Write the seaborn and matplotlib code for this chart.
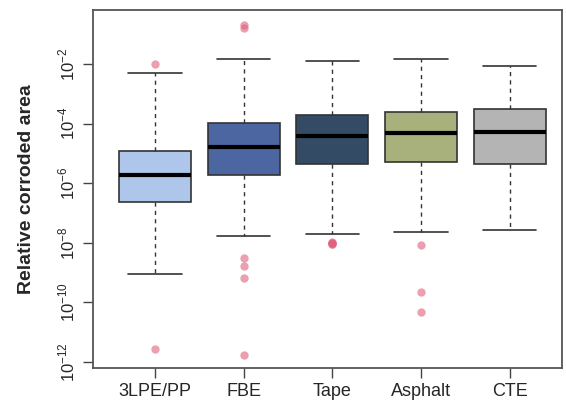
import numpy as np
import pandas as pd
import matplotlib
matplotlib.use('Agg')
import matplotlib.pyplot as plt
import seaborn as sns

# coating types and box summaries (log10 of relative corroded area)
coatings = ['3LPE/PP', 'FBE', 'Tape', 'Asphalt', 'CTE']
whisker_low = [-9.05, -7.76, -7.72, -7.65, -7.57]
q1 = [-6.63, -5.72, -5.36, -5.30, -5.37]
median = [-5.72, -4.78, -4.41, -4.30, -4.27]
q3 = [-4.92, -3.97, -3.71, -3.62, -3.52]
whisker_high = [-2.29, -1.84, -1.89, -1.84, -2.07]
box_colors = ['#adc6ea', '#4c66a2', '#344b65', '#a8b07c', '#b4b4b4']

# outliers (log10)
outlier_group = ['3LPE/PP', '3LPE/PP',
                 'FBE', 'FBE', 'FBE', 'FBE', 'FBE', 'FBE',
                 'Tape', 'Tape', 'Tape', 'Tape', 'Tape',
                 'Asphalt', 'Asphalt', 'Asphalt']
outlier_value = [-2.0, -11.56,
                 -0.69, -0.79, -8.50, -8.77, -9.17, -11.77,
                 -7.97, -7.99, -8.01, -8.03, -8.05,
                 -8.07, -9.66, -10.33]

sns.set_style('white')
plt.rcParams['font.family'] = ['Liberation Sans', 'DejaVu Sans']
plt.rcParams['mathtext.fontset'] = 'custom'
plt.rcParams['mathtext.rm'] = 'Liberation Sans'

fig = plt.figure(figsize=(5.66, 4.11), dpi=100)
ax = fig.add_axes([93 / 566, 1 - 368 / 411, (562 - 93) / 566, (368 - 10) / 411])

stats = []
for i, name in enumerate(coatings):
    stats.append({
        'label': name,
        'whislo': 10 ** whisker_low[i],
        'q1': 10 ** q1[i],
        'med': 10 ** median[i],
        'q3': 10 ** q3[i],
        'whishi': 10 ** whisker_high[i],
        'fliers': [],
    })

bp = ax.bxp(stats, positions=range(len(coatings)), widths=0.81, patch_artist=True,
            showfliers=False,
            boxprops=dict(edgecolor='#333333', linewidth=1.2),
            medianprops=dict(color='black', linewidth=3),
            whiskerprops=dict(color='#333333', linewidth=1, linestyle=(0, (3, 3))),
            capprops=dict(color='#333333', linewidth=1.2))
for patch, c in zip(bp['boxes'], box_colors):
    patch.set_facecolor(c)
for cap in bp['caps']:
    x0, x1 = cap.get_xdata()
    mid = (x0 + x1) / 2
    cap.set_xdata([mid - 0.3, mid + 0.3])

outliers = pd.DataFrame({'coating': outlier_group,
                         'area': [10 ** v for v in outlier_value]})
sns.stripplot(data=outliers, x='coating', y='area', order=coatings, jitter=False,
              color='#e0607c', alpha=0.6, size=6, linewidth=0, ax=ax, zorder=5)

ax.set_yscale('log')
ax.set_ylim(10 ** -12.2, 10 ** -0.19)
ax.set_xlim(-0.70, 4.59)
yt = [1e-12, 1e-10, 1e-8, 1e-6, 1e-4, 1e-2]
ax.set_yticks(yt)
ax.set_yticklabels([r'$10^{%d}$' % int(np.log10(v)) for v in yt], rotation=90,
                   va='center', fontsize=12)
ax.minorticks_off()
ax.set_xticks(range(len(coatings)))
ax.set_xticklabels(coatings, fontsize=13)
ax.set_xlabel('')
ax.set_ylabel('Relative corroded area', fontsize=14, fontweight='bold', labelpad=16)
ax.tick_params(axis='both', direction='out', length=7, width=1, color='#444444',
               left=True, bottom=True, pad=4)
for s in ax.spines.values():
    s.set_color('#555555')
    s.set_linewidth(1.3)

plt.savefig('out.png', dpi=100)
plt.close()
